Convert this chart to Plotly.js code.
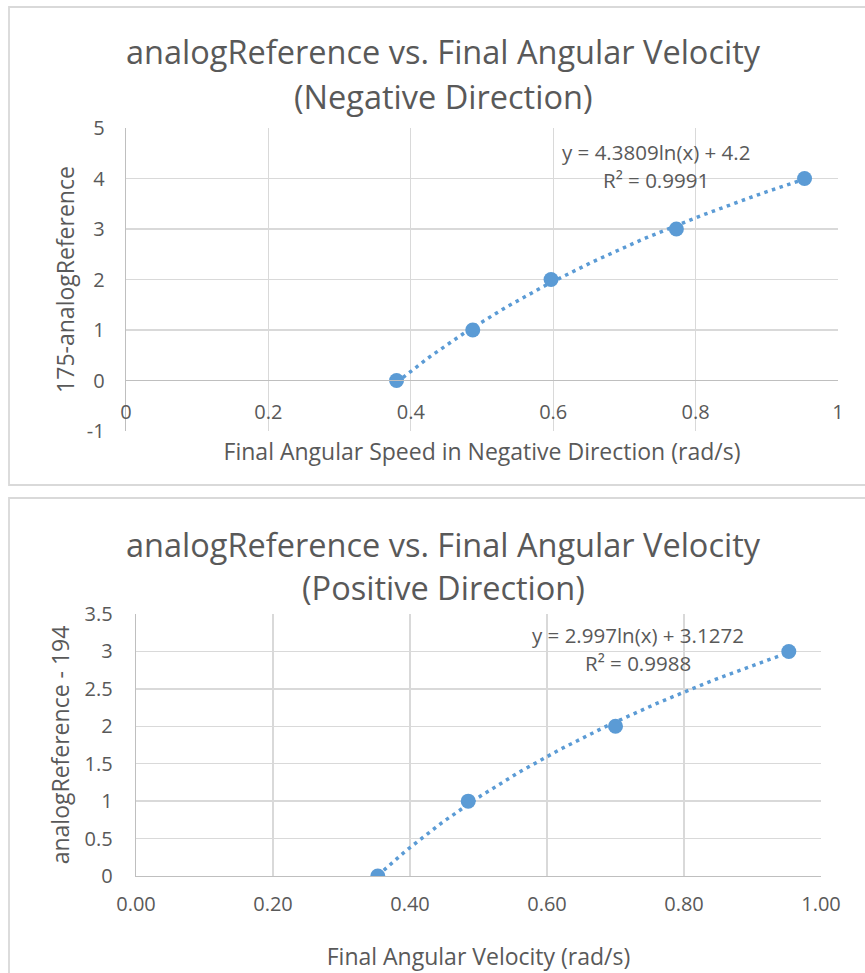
<!DOCTYPE html>
<html>
<head>
<meta charset="utf-8">
<script src="https://cdn.plot.ly/plotly-3.0.1.min.js"></script>
<style>
  html, body { margin: 0; padding: 0; background: #ffffff; }
  #chart { width: 865px; height: 973px; }
</style>
</head>
<body>
<div id="chart"></div>
<script>
// Negative direction: final angular speed (rad/s) vs. 175 - analogReference
const negSpeed = [0.380, 0.487, 0.597, 0.773, 0.953];
const negRef = [0, 1, 2, 3, 4];
const negFitCoef = [4.3809, 4.2];   // y = a ln(x) + b
const negFitR2 = '0.9991';

// Positive direction: final angular velocity (rad/s) vs. analogReference - 194
const posSpeed = [0.353, 0.485, 0.700, 0.953];
const posRef = [0, 1, 2, 3];
const posFitCoef = [2.997, 3.1272];
const posFitR2 = '0.9988';

const negXTicks = [0, 0.2, 0.4, 0.6, 0.8, 1];
const negYTicks = [-1, 0, 1, 2, 3, 4, 5];
const negYLabels = ['-1', '0', '1', '2', '3', '4', '5'];
const posXTicks = [0, 0.2, 0.4, 0.6, 0.8, 1.0];
const posYTicks = [0, 0.5, 1, 1.5, 2, 2.5, 3, 3.5];

const W = 865, H = 973;
const BLUE = '#5B9BD5';
const TEXT = '#595959';
const GRID = '#D9D9D9';
const AXLINE = '#BFBFBF';
const FONT = 'Open Sans, Noto Sans, sans-serif';

// pixel helpers -> paper fractions (margins are zero)
const px = v => v / W;
const py = v => 1 - v / H;

// logarithmic trendline over the span of the measured speeds
function logTrend(xs, coef, n) {
  const lo = Math.min(...xs), hi = Math.max(...xs);
  const tx = [], ty = [];
  for (let i = 0; i <= n; i++) {
    const x = lo + (hi - lo) * i / n;
    tx.push(x);
    ty.push(coef[0] * Math.log(x) + coef[1]);
  }
  return {x: tx, y: ty};
}

const negTrend = logTrend(negSpeed, negFitCoef, 80);
const posTrend = logTrend(posSpeed, posFitCoef, 80);

const trendLine = {color: BLUE, width: 3.5, dash: '3.5px,4.5px'};
const markerStyle = {color: BLUE, size: 15};

const traces = [
  {x: negTrend.x, y: negTrend.y, xaxis: 'x', yaxis: 'y', mode: 'lines',
   line: trendLine, hoverinfo: 'skip'},
  {x: negSpeed, y: negRef, xaxis: 'x', yaxis: 'y', mode: 'markers',
   marker: markerStyle},
  {x: posTrend.x, y: posTrend.y, xaxis: 'x2', yaxis: 'y2', mode: 'lines',
   line: trendLine, hoverinfo: 'skip'},
  {x: posSpeed, y: posRef, xaxis: 'x2', yaxis: 'y2', mode: 'markers',
   marker: markerStyle}
];

const tickFont = {family: FONT, size: 20, color: TEXT};
const axTitleFont = {family: FONT, size: 23, color: TEXT};

function eqText(coef) {
  return 'y = ' + coef[0] + 'ln(x) + ' + coef[1];
}

function ann(text, x, y, size) {
  return {text: text, xref: 'paper', yref: 'paper', x: px(x), y: py(y),
          xanchor: 'center', yanchor: 'middle', showarrow: false,
          font: {family: FONT, size: size, color: TEXT}};
}

const layout = {
  width: W, height: H,
  margin: {l: 0, r: 0, t: 0, b: 0},
  paper_bgcolor: '#ffffff',
  plot_bgcolor: 'rgba(0,0,0,0)',
  showlegend: false,
  hovermode: false,
  xaxis: {
    domain: [px(126), px(838)], range: [0, 1],
    tickvals: negXTicks, anchor: 'free', position: py(380),
    showgrid: true, gridcolor: GRID, gridwidth: 1.3,
    showline: true, linecolor: AXLINE, linewidth: 1.3, zeroline: false,
    ticks: '', tickfont: tickFont, ticklabelstandoff: 14,
    title: {text: 'Final Angular Speed in Negative Direction (rad/s)',
            font: axTitleFont, standoff: 19}
  },
  yaxis: {
    domain: [py(431), py(128)], range: [-1, 5],
    tickvals: negYTicks, ticktext: negYLabels, anchor: 'x',
    showgrid: true, gridcolor: GRID, gridwidth: 1.3,
    showline: true, linecolor: AXLINE, linewidth: 1.3, zeroline: false,
    ticks: '', tickfont: tickFont, ticklabelstandoff: 16,
    title: {text: '175-analogReference', font: axTitleFont, standoff: 5}
  },
  xaxis2: {
    domain: [px(136), px(821)], range: [0, 1],
    tickvals: posXTicks, tickformat: '.2f', anchor: 'y2',
    showgrid: true, gridcolor: GRID, gridwidth: 1.3,
    showline: true, linecolor: AXLINE, linewidth: 1.3, zeroline: false,
    ticks: '', tickfont: tickFont, ticklabelstandoff: 10,
    title: {text: 'Final Angular Velocity (rad/s)', font: axTitleFont, standoff: 32}
  },
  yaxis2: {
    domain: [py(876), py(614)], range: [0, 3.5],
    tickvals: posYTicks, anchor: 'x2',
    showgrid: true, gridcolor: GRID, gridwidth: 1.3,
    showline: true, linecolor: AXLINE, linewidth: 1.3, zeroline: false,
    ticks: '', tickfont: tickFont, ticklabelstandoff: 18,
    title: {text: 'analogReference - 194', font: axTitleFont, standoff: 8}
  },
  shapes: [
    {type: 'rect', xref: 'paper', yref: 'paper',
     x0: px(9), x1: px(880), y0: py(7), y1: py(485),
     line: {color: GRID, width: 1.8}, fillcolor: 'rgba(0,0,0,0)', layer: 'below'},
    {type: 'rect', xref: 'paper', yref: 'paper',
     x0: px(9), x1: px(880), y0: py(498), y1: py(990),
     line: {color: GRID, width: 1.8}, fillcolor: 'rgba(0,0,0,0)', layer: 'below'}
  ],
  annotations: [
    ann('analogReference vs. Final Angular Velocity', 443, 52, 32.5),
    ann('(Negative Direction)', 443, 97, 32.5),
    ann(eqText(negFitCoef), 656, 152, 20.5),
    ann('R² = ' + negFitR2, 656, 180, 20.5),
    ann('analogReference vs. Final Angular Velocity', 443, 544, 32.5),
    ann('(Positive Direction)', 443, 587, 32.5),
    ann(eqText(posFitCoef), 638, 635, 20.5),
    ann('R² = ' + posFitR2, 638, 663, 20.5)
  ]
};

Plotly.newPlot('chart', traces, layout, {staticPlot: true, displayModeBar: false});
</script>
</body>
</html>
